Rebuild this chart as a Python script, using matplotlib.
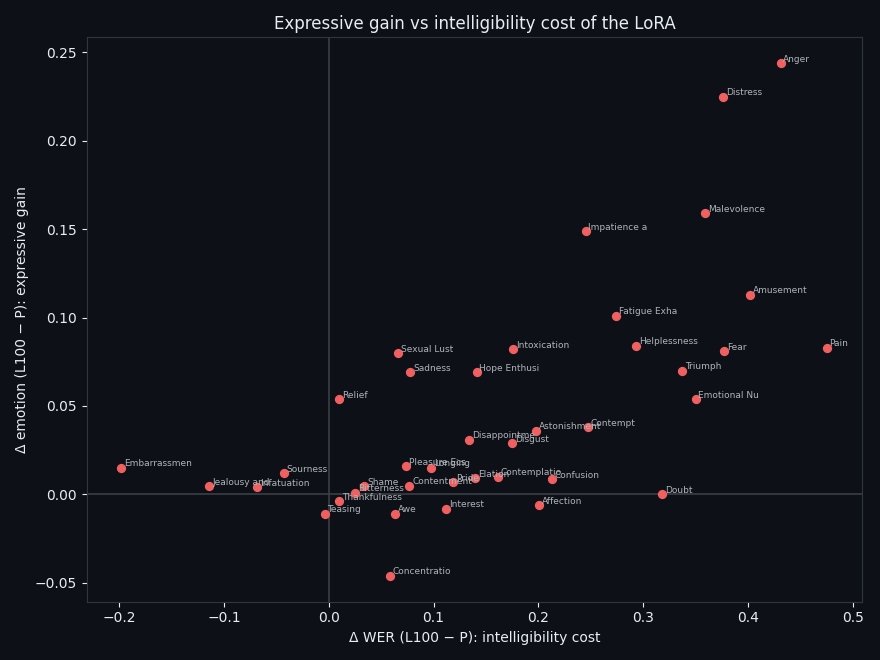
import matplotlib
matplotlib.use("Agg")
from matplotlib import pyplot as plt

labels = ["Anger", "Distress", "Malevolence", "Impatience and Irritability", "Amusement",
          "Fatigue Exhaustion", "Helplessness", "Fear", "Pain", "Sexual Lust", "Intoxication",
          "Sadness", "Hope Enthusiasm", "Triumph", "Emotional Numbness", "Relief", "Contempt",
          "Astonishment", "Disappointment", "Disgust", "Embarrassment", "Sourness",
          "Jealousy and Envy", "Infatuation", "Pleasure Ecstasy", "Longing", "Shame",
          "Bitterness", "Thankfulness", "Teasing", "Awe", "Contentment", "Pride", "Elation",
          "Contemplation", "Confusion", "Interest", "Affection", "Doubt", "Concentration"]
d_wer = [0.431, 0.376, 0.359, 0.245, 0.402, 0.274, 0.293, 0.377, 0.475, 0.066, 0.176,
         0.078, 0.141, 0.337, 0.350, 0.010, 0.247, 0.198, 0.134, 0.175, -0.198, -0.043,
         -0.114, -0.068, 0.074, 0.098, 0.034, 0.025, 0.010, -0.004, 0.063, 0.077, 0.119,
         0.140, 0.161, 0.213, 0.112, 0.201, 0.318, 0.058]
d_emo = [0.244, 0.225, 0.159, 0.149, 0.113, 0.101, 0.084, 0.081, 0.083, 0.080, 0.082,
         0.069, 0.069, 0.070, 0.054, 0.054, 0.038, 0.036, 0.031, 0.029, 0.015, 0.012,
         0.0045, 0.004, 0.016, 0.015, 0.0045, 0.001, -0.004, -0.011, -0.011, 0.005, 0.007,
         0.009, 0.010, 0.0085, -0.008, -0.006, 0.0, -0.046]

bg = "#0d1117"
fg = "#e6edf3"
fig, ax = plt.subplots(figsize=(8.8, 6.6), dpi=100)
fig.patch.set_facecolor(bg)
ax.set_facecolor(bg)
for s in ax.spines.values():
    s.set_color("#30363d")
ax.tick_params(colors=fg, labelsize=10)

ax.axhline(0, color="#3a3f47", lw=1.2, zorder=1)
ax.axvline(0, color="#3a3f47", lw=1.2, zorder=1)
ax.scatter(d_wer, d_emo, s=32, color="#f06060", zorder=3)
for x, y, t in zip(d_wer, d_emo, labels):
    ax.annotate(t[:12], (x, y), xytext=(2, 1), textcoords="offset points",
                fontsize=6.5, color="#b0b4ba", zorder=4)

ax.set_xlim(-0.231, 0.509)
ax.set_ylim(-0.0607, 0.2585)
ax.set_xlabel("Δ WER (L100 − P): intelligibility cost", color=fg, fontsize=10)
ax.set_ylabel("Δ emotion (L100 − P): expressive gain", color=fg, fontsize=10)
ax.set_title("Expressive gain vs intelligibility cost of the LoRA", color=fg, fontsize=12)
plt.tight_layout()
plt.savefig("out.png", facecolor=bg)
